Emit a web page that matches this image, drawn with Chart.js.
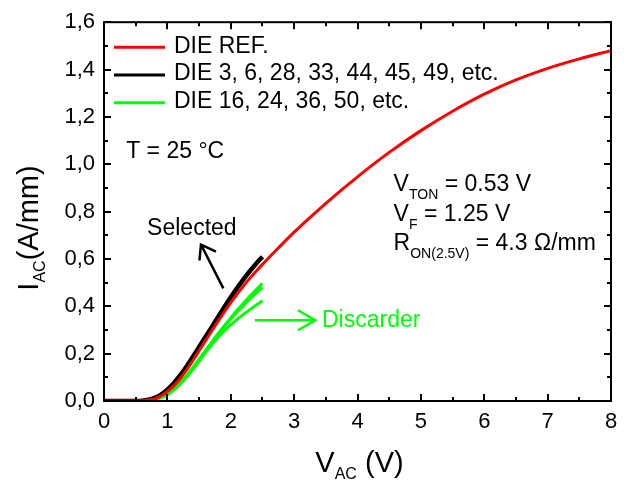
<!DOCTYPE html>
<html>
<head>
<meta charset="utf-8">
<style>
html,body{margin:0;padding:0;background:#fff;}
#wrap{width:631px;height:480px;position:relative;}
</style>
<script src="https://cdn.jsdelivr.net/npm/chart.js@4.4.0/dist/chart.umd.min.js"></script>
</head>
<body>
<div id="wrap"><canvas id="c" width="631" height="480"></canvas></div>
<script>
// ---------- data ----------
const xTickLabels = ['0','1','2','3','4','5','6','7','8'];
const yTickLabels = ['0,0','0,2','0,4','0,6','0,8','1,0','1,2','1,4','1,6'];

const legendLabels = ['DIE REF.', 'DIE 3, 6, 28, 33, 44, 45, 49, etc.', 'DIE 16, 24, 36, 50, etc.'];

const refV = [0, 0.5, 0.6, 0.7, 0.8, 0.9, 1.0, 1.1, 1.2, 1.3, 1.4, 1.5, 1.6, 1.7, 1.8, 1.9, 2.0, 2.1, 2.2, 2.3, 2.4, 2.5, 2.75, 3.0, 3.5, 4.0, 4.5, 5.0, 5.5, 6.0, 6.5, 7.0, 7.5, 8.0];
const refI = [0, 0, 0.001, 0.004, 0.01, 0.022, 0.04, 0.064, 0.094, 0.13, 0.17, 0.212, 0.254, 0.296, 0.337, 0.377, 0.416, 0.452, 0.486, 0.518, 0.548, 0.577, 0.646, 0.713, 0.835, 0.947, 1.05, 1.142, 1.224, 1.296, 1.356, 1.405, 1.445, 1.48];

const dieV = [0, 0.5, 0.6, 0.7, 0.8, 0.9, 1.0, 1.1, 1.2, 1.3, 1.4, 1.5, 1.6, 1.7, 1.8, 1.9, 2.0, 2.1, 2.2, 2.3, 2.4, 2.5];
const selectedI = [0, 0, 0.001, 0.005, 0.013, 0.027, 0.048, 0.075, 0.108, 0.145, 0.186, 0.228, 0.27, 0.312, 0.355, 0.397, 0.438, 0.477, 0.514, 0.548, 0.58, 0.609];
const discardA_I = [0, 0, 0, 0.002, 0.007, 0.016, 0.03, 0.05, 0.076, 0.106, 0.14, 0.176, 0.212, 0.248, 0.284, 0.318, 0.351, 0.383, 0.413, 0.442, 0.47, 0.497];
const discardB_I = [0, 0, 0, 0.002, 0.007, 0.016, 0.03, 0.05, 0.076, 0.106, 0.14, 0.176, 0.212, 0.248, 0.283, 0.315, 0.346, 0.376, 0.404, 0.431, 0.456, 0.48];
const discardC_I = [0, 0, 0, 0.002, 0.006, 0.014, 0.027, 0.046, 0.071, 0.1, 0.133, 0.168, 0.204, 0.238, 0.269, 0.297, 0.322, 0.345, 0.366, 0.386, 0.405, 0.423];

// ---------- styling ----------
const FF = '"Liberation Sans", Arial, Helvetica, sans-serif';
const RED = '#ff0000', BLACK = '#000000', GREEN = '#00ff00';
const legendColors = [RED, BLACK, GREEN];

function pts(xs, ys){ return xs.map((x,i)=>({x:x, y:ys[i]})); }

function richWidth(ctx, parts, size, subSize){
  let w = 0;
  parts.forEach(p => { ctx.font = (p[1] ? subSize : size) + 'px ' + FF; w += ctx.measureText(p[0]).width; });
  return w;
}
function drawRich(ctx, parts, x, y, size, subSize, subDy){
  let cx = x;
  parts.forEach(p => {
    ctx.font = (p[1] ? subSize : size) + 'px ' + FF;
    ctx.fillText(p[0], cx, y + (p[1] ? subDy : 0));
    cx += ctx.measureText(p[0]).width;
  });
}

const framePlugin = {
  id: 'frameTicks',
  afterDatasetsDraw(chart){
    const ctx = chart.ctx, a = chart.chartArea, xs = chart.scales.x, ys = chart.scales.y;
    ctx.save();
    ctx.strokeStyle = '#000';
    ctx.lineWidth = 2;
    ctx.beginPath();
    for (let i = 0; i <= 16; i++){
      const px = Math.round(xs.getPixelForValue(i * 0.5));
      const L = (i % 2 === 0) ? 7 : 4;
      ctx.moveTo(px, a.bottom); ctx.lineTo(px, a.bottom - L);
      ctx.moveTo(px, a.top); ctx.lineTo(px, a.top + L);
    }
    for (let i = 0; i <= 16; i++){
      const py = Math.round(ys.getPixelForValue(i * 0.1));
      const L = (i % 2 === 0) ? 7 : 4;
      ctx.moveTo(a.left, py); ctx.lineTo(a.left + L, py);
      ctx.moveTo(a.right, py); ctx.lineTo(a.right - L, py);
    }
    ctx.stroke();
    ctx.strokeRect(a.left, a.top, a.right - a.left, a.bottom - a.top);
    ctx.restore();
  }
};

const annotPlugin = {
  id: 'annot',
  afterDraw(chart){
    const ctx = chart.ctx, a = chart.chartArea, xs = chart.scales.x, ys = chart.scales.y;
    const X = v => xs.getPixelForValue(v), Y = v => ys.getPixelForValue(v);
    ctx.save();
    ctx.textAlign = 'left';

    // legend inside plot
    ctx.textBaseline = 'middle';
    legendLabels.forEach((lab, i) => {
      const y = a.top + 25 + i * 27.8;
      ctx.strokeStyle = legendColors[i]; ctx.lineWidth = 3;
      ctx.beginPath(); ctx.moveTo(a.left + 10, y); ctx.lineTo(a.left + 61, y); ctx.stroke();
      ctx.fillStyle = '#000';
      ctx.font = '23px ' + FF;
      ctx.fillText(lab, a.left + 70, y - 1);
    });

    // T = 25 °C, labels
    ctx.fillStyle = '#000';
    ctx.font = '23px ' + FF;
    ctx.fillText('T = 25 °C', X(0.35), Y(1.052));
    ctx.fillText('Selected', X(0.68), Y(0.728));
    ctx.fillStyle = GREEN;
    ctx.fillText('Discarder', X(3.44), Y(0.341));

    // arrows
    ctx.lineWidth = 2.5;
    ctx.strokeStyle = '#000';
    ctx.beginPath();
    ctx.moveTo(X(1.883), Y(0.476)); ctx.lineTo(X(1.53), Y(0.661));
    ctx.moveTo(X(1.53) - 1.5, Y(0.661) + 16); ctx.lineTo(X(1.53), Y(0.661)); ctx.lineTo(X(1.53) + 15, Y(0.661) + 7);
    ctx.stroke();
    ctx.strokeStyle = GREEN;
    ctx.beginPath();
    ctx.moveTo(X(2.38), Y(0.341)); ctx.lineTo(X(3.33), Y(0.341));
    ctx.moveTo(X(3.33) - 17, Y(0.341) - 10); ctx.lineTo(X(3.33), Y(0.341)); ctx.lineTo(X(3.33) - 17, Y(0.341) + 10);
    ctx.stroke();

    // right-side parameters
    ctx.fillStyle = '#000';
    ctx.textBaseline = 'alphabetic';
    const lx = X(4.57);
    drawRich(ctx, [['V',0],['TON',1],[' = 0.53 V',0]], lx, Y(0.888), 23, 14, 8);
    drawRich(ctx, [['V',0],['F',1],[' = 1.25 V',0]], lx, Y(0.761), 23, 14, 8);
    drawRich(ctx, [['R',0],['ON(2.5V)',1],[' = 4.3 \u03A9/mm',0]], lx, Y(0.637), 23, 14, 8);

    // x axis title
    const xt = [['V',0],['AC',1],[' (V)',0]];
    const wx = richWidth(ctx, xt, 29, 16);
    drawRich(ctx, xt, (a.left + a.right) / 2 - wx / 2 + 2, 472, 29, 16, 7);

    // y axis title (rotated)
    const yt = [['I',0],['AC',1],['(A/mm)',0]];
    const wy = richWidth(ctx, yt, 29, 16);
    ctx.translate(38, 228);
    ctx.rotate(-Math.PI / 2);
    drawRich(ctx, yt, -wy / 2, 0, 29, 16, 7);
    ctx.restore();
  }
};

const lineDs = (label, xs, ys, color, w) => ({
  label: label, data: pts(xs, ys), borderColor: color, backgroundColor: color,
  borderWidth: w, pointRadius: 0, fill: false, cubicInterpolationMode: 'monotone'
});

new Chart(document.getElementById('c'), {
  type: 'line',
  data: {
    datasets: [
      lineDs(legendLabels[0], refV, refI, RED, 3),
      lineDs(legendLabels[1], dieV, selectedI, BLACK, 4.5),
      lineDs(legendLabels[2], dieV, discardA_I, GREEN, 3),
      lineDs(legendLabels[2], dieV, discardB_I, GREEN, 3),
      lineDs(legendLabels[2], dieV, discardC_I, GREEN, 3)
    ]
  },
  options: {
    responsive: false,
    devicePixelRatio: 1,
    animation: false,
    layout: { padding: { left: 0, right: 20, top: 20, bottom: 0 } },
    plugins: { legend: { display: false }, tooltip: { enabled: false } },
    scales: {
      x: {
        type: 'linear', min: 0, max: 8,
        ticks: { stepSize: 1, autoSkip: false, maxRotation: 0, padding: 8, color: '#000',
                 font: { size: 22, family: FF }, callback: (v, i) => xTickLabels[i] },
        grid: { display: false, drawTicks: false },
        border: { display: false },
        afterFit: s => { s.height = 79; }
      },
      y: {
        type: 'linear', min: 0, max: 1.6,
        ticks: { stepSize: 0.2, autoSkip: false, padding: 9, color: '#000',
                 font: { size: 22, family: FF }, callback: (v, i) => yTickLabels[i] },
        grid: { display: false, drawTicks: false },
        border: { display: false },
        afterFit: s => { s.width = 104; }
      }
    }
  },
  plugins: [framePlugin, annotPlugin]
});
</script>
</body>
</html>
